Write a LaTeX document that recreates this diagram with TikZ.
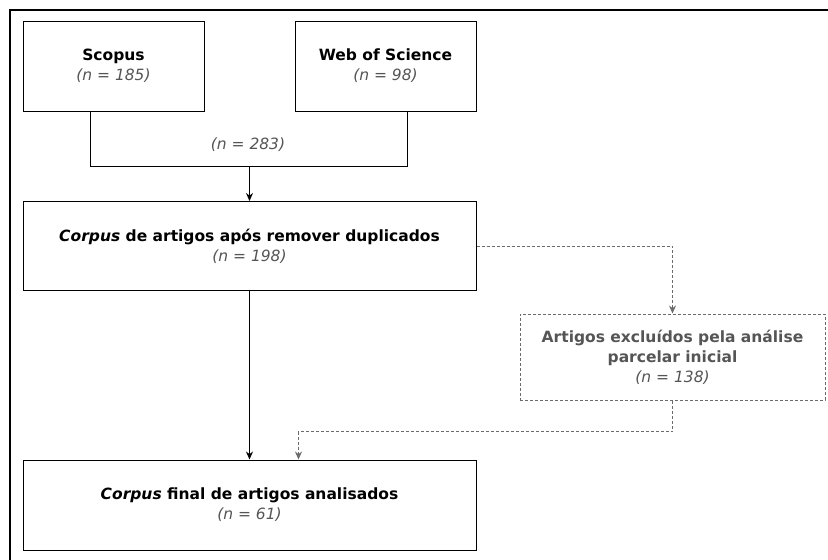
\documentclass[tikz,border=0pt]{standalone}
\usepackage{fontspec}
\setmainfont{DejaVu Sans}
\usetikzlibrary{arrows.meta,calc}
\definecolor{softgray}{HTML}{555555}
\definecolor{dashgray}{HTML}{6B6B6B}
\tikzset{
	box/.style={draw=black,line width=1pt,align=center,inner sep=0pt},
	excbox/.style={draw=dashgray,line width=1pt,dash pattern=on 3pt off 2pt,align=center,inner sep=0pt,text=softgray},
	flow/.style={line width=1pt,-{Stealth[length=8pt,width=7pt]}},
	exflow/.style={draw=dashgray,line width=1pt,dash pattern=on 3pt off 2pt,-{Stealth[length=8pt,width=7pt]}},
}
\newcommand{\nval}[1]{{\color{softgray}\itshape (n = #1)}}
\begin{document}
\begin{tikzpicture}[x=1pt,y=-1pt,font=\fontsize{15.5}{20}\selectfont]
	\useasboundingbox (0,0) rectangle (828,560);
	% outer frame
	\draw[line width=2pt] (830,10) -- (10,10) -- (10,562);
	
	% the databases
	\node[box,minimum width=181pt,minimum height=90pt] (scopus) at (113.5,66) {\textbf{Scopus}\\\nval{185}};
	\node[box,minimum width=181pt,minimum height=90pt] (wos) at (385.5,66) {\textbf{Web of Science}\\\nval{98}};
	
	% the corpus boxes
	\node[box,minimum width=453pt,minimum height=89pt] (dedup) at (249.5,246) {\textbf{\textit{Corpus} de artigos após remover duplicados}\\\nval{198}};
	\node[excbox,minimum width=305pt,minimum height=86pt] (excl) at (672.5,357) {\textbf{Artigos excluídos pela análise}\\\textbf{parcelar inicial}\\\nval{138}};
	\node[box,minimum width=453pt,minimum height=90pt] (final) at (249.5,505) {\textbf{\textit{Corpus} final de artigos analisados}\\\nval{61}};
	
	% merge of both databases
	\coordinate (join) at (249.5,166.5);
	\draw[line width=1pt] ([xshift=68pt]scopus.south west) |- (join) -| ([xshift=-69pt]wos.south east);
	\node (total) at (248,145) {\nval{283}};
	\draw[flow] (join) -- (dedup.north);
	
	% exclusion path
	\draw[exflow] (dedup.east) -| (excl.north);
	\coordinate (back) at (298.5,431.5);
	\draw[exflow] (excl.south) |- (back) -- (back |- final.north);
	
	% main path
	\draw[flow] (dedup.south) -- (final.north);
\end{tikzpicture}
\end{document}
